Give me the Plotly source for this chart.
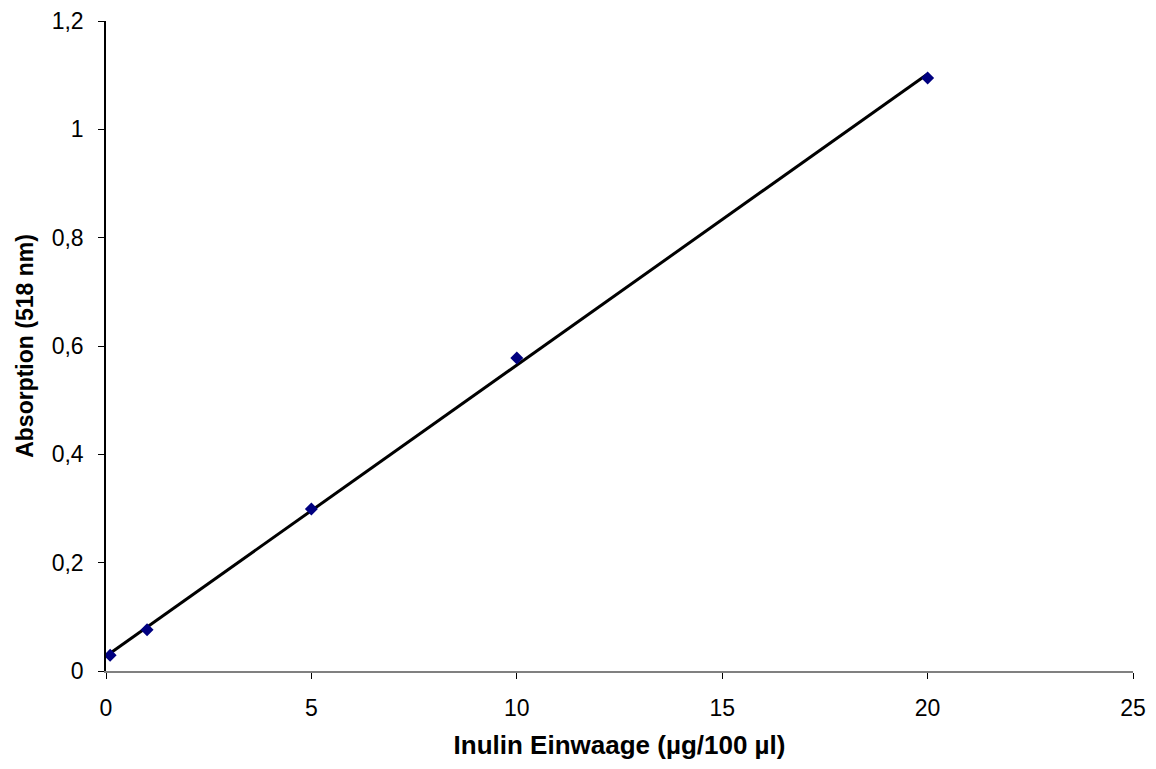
import numpy as np
import plotly.graph_objects as go

x_vals = [0.1, 1, 5, 10, 20]
y_vals = [0.029, 0.076, 0.299, 0.578, 1.095]

x_ticks = [0, 5, 10, 15, 20, 25]
y_ticks = [0, 0.2, 0.4, 0.6, 0.8, 1.0, 1.2]
y_tick_text = ["0", "0,2", "0,4", "0,6", "0,8", "1", "1,2"]

slope, intercept = np.polyfit(x_vals, y_vals, 1)
trend_x = [min(x_vals), max(x_vals)]
trend_y = [slope * v + intercept for v in trend_x]

fig = go.Figure()
fig.add_trace(go.Scatter(x=trend_x, y=trend_y, mode="lines",
                         line=dict(color="black", width=3), showlegend=False))
fig.add_trace(go.Scatter(x=x_vals, y=y_vals, mode="markers",
                         marker=dict(symbol="diamond", size=10, color="#000080"),
                         showlegend=False))

fam = "Liberation Sans, Arial, sans-serif"
tickfont = dict(family=fam, size=23, color="black")
fig.update_layout(
    width=1156, height=769,
    margin=dict(l=98, r=31, t=13, b=106),
    paper_bgcolor="white", plot_bgcolor="white",
    font=dict(family=fam, size=23, color="black"),
    xaxis=dict(range=[0, 25], tickvals=x_ticks, showgrid=False, zeroline=False,
               showline=True, linecolor="#808080", linewidth=1.5,
               ticks="outside", ticklen=6, tickcolor="black", automargin=False,
               tickfont=tickfont, ticklabelstandoff=10,
               title=dict(text="<b>Inulin Einwaage (µg/100 µl)</b>",
                          font=dict(family=fam, size=26, color="black"), standoff=15)),
    yaxis=dict(range=[0, 1.2], tickvals=y_ticks, ticktext=y_tick_text,
               showgrid=False, zeroline=False, automargin=False,
               showline=True, linecolor="black", linewidth=1.5,
               ticks="outside", ticklen=6, tickcolor="black",
               tickfont=tickfont, ticklabelstandoff=10,
               title=dict(text="<b>Absorption (518 nm)</b>",
                          font=dict(family=fam, size=23, color="black"), standoff=12)),
)
fig.write_html("out.html")
